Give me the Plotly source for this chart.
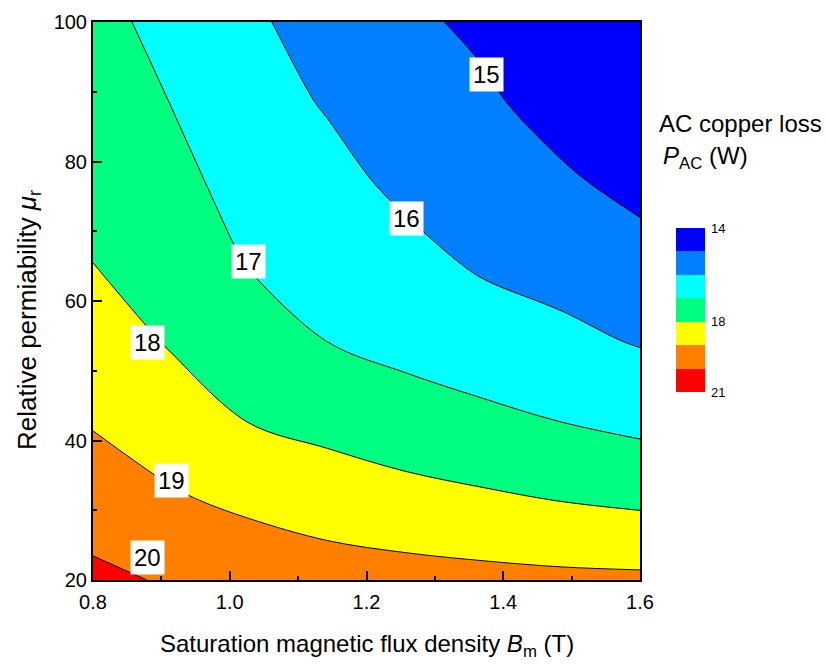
import plotly.graph_objects as go

# ---- data ----
B_m = [0.8, 0.914, 1.029, 1.143, 1.257, 1.371, 1.486, 1.6]          # Saturation flux density (T)
mu_r = [20, 31.43, 42.86, 54.29, 65.71, 77.14, 88.57, 100]           # Relative permeability
P_ac = [                                                             # AC copper loss (W), rows = mu_r
    [20.20, 19.91, 19.70, 19.45, 19.35, 19.27, 19.20, 19.17],
    [19.54, 19.12, 18.79, 18.54, 18.33, 18.15, 17.98, 17.83],
    [18.92, 18.47, 17.97, 17.71, 17.42, 17.21, 16.98, 16.75],
    [18.46, 17.92, 17.44, 16.99, 16.72, 16.45, 16.22, 15.93],
    [17.99, 17.60, 16.94, 16.63, 16.26, 15.87, 15.63, 15.28],
    [17.55, 17.28, 16.63, 16.26, 15.81, 15.49, 15.11, 14.77],
    [17.25, 16.99, 16.35, 15.93, 15.50, 15.12, 14.70, 14.38],
    [17.08, 16.92, 16.12, 15.70, 15.15, 14.85, 14.32, 14.00],
]
level_start, level_end, level_step = 14, 21, 1
band_colors = ["#0000FF", "#0080FF", "#00FFFF", "#00FF80", "#FFFF00", "#FF8000", "#FF0000"]
band_centers = [14.5, 15.5, 16.5, 17.5, 18.5, 19.5, 20.5]
cbar_ticks = [14, 18, 21]
label_text = ["15", "16", "17", "18", "19", "20"]
label_B = [1.375, 1.259, 1.028, 0.880, 0.9155, 0.880]
label_mu = [92.5, 71.9, 65.6, 54.1, 34.3, 23.2]

FONT = "Arial, Liberation Sans, sans-serif"
W, H = 826, 664
ML, MR, MT, MB = 93, 10, 22, 84
PW, PH = W - ML - MR, H - MT - MB


def px_x(p):  # pixel -> paper fraction
    return (p - ML) / PW


def px_y(p):
    return (H - MB - p) / PH


n = len(band_colors)
colorscale = []
for k, c in enumerate(band_colors):
    colorscale.append([k / n, c])
    colorscale.append([(k + 1) / n, c])

fig = go.Figure()
fig.add_trace(go.Contour(
    x=B_m, y=mu_r, z=P_ac,
    colorscale=colorscale, zmin=level_start, zmax=level_end, zauto=False,
    autocontour=False,
    contours=dict(start=level_start, end=level_end, size=level_step, coloring="fill", showlabels=False),
    line=dict(color="black", width=1),
    showscale=False, hoverinfo="skip",
))

# discrete colour key (reversed: 14 on top)
fig.add_trace(go.Heatmap(
    x=[0], y=band_centers, z=[[v] for v in band_centers],
    colorscale=colorscale, zmin=level_start, zmax=level_end,
    showscale=False, xaxis="x2", yaxis="y2", hoverinfo="skip",
))

annotations = []
for t, bx, my in zip(label_text, label_B, label_mu):
    annotations.append(dict(x=bx, y=my, xref="x", yref="y", text=t, showarrow=False,
                            bgcolor="white", borderpad=3,
                            font=dict(family=FONT, size=24, color="black")))

annotations += [
    dict(x=px_x(657), y=px_y(123), xref="paper", yref="paper", xanchor="left", yanchor="middle",
         showarrow=False, text="AC copper loss", font=dict(family=FONT, size=24, color="black")),
    dict(x=px_x(661), y=px_y(158), xref="paper", yref="paper", xanchor="left", yanchor="middle",
         showarrow=False, text="<i>P</i><sub>AC</sub> (W)", font=dict(family=FONT, size=24, color="black")),
    dict(x=px_x(367), y=px_y(645), xref="paper", yref="paper", xanchor="center", yanchor="middle",
         showarrow=False, text="Saturation magnetic flux density <i>B</i><sub>m</sub> (T)",
         font=dict(family=FONT, size=24, color="black")),
    dict(x=px_x(28), y=px_y(320), xref="paper", yref="paper", xanchor="center", yanchor="middle",
         showarrow=False, textangle=-90, text="Relative permiability <i>μ</i><sub>r</sub>",
         font=dict(family=FONT, size=26, color="black")),
]

axis_common = dict(showline=True, linecolor="black", linewidth=2, mirror=True,
                   ticks="inside", ticklen=9, tickwidth=1.5, tickcolor="black",
                   showgrid=False, zeroline=False, automargin=False,
                   tickfont=dict(family=FONT, size=20, color="black"))

fig.update_layout(
    width=W, height=H, autosize=False,
    margin=dict(l=ML, r=MR, t=MT, b=MB, autoexpand=False),
    paper_bgcolor="white", plot_bgcolor="white",
    showlegend=False,
    xaxis=dict(domain=[0, px_x(640)], range=[0.8, 1.6], dtick=0.2, tick0=0.8, tickformat=".1f",
               minor=dict(ticks="inside", ticklen=4, dtick=0.1, tickcolor="black", tickwidth=1.5),
               ticklabelstandoff=3, **axis_common),
    yaxis=dict(range=[20, 100], dtick=20, tick0=20,
               minor=dict(ticks="inside", ticklen=4, dtick=10, tickcolor="black", tickwidth=1.5),
               **axis_common),
    xaxis2=dict(domain=[px_x(676), px_x(705)], anchor="y2", range=[-0.5, 0.5],
                visible=False, fixedrange=True, automargin=False),
    yaxis2=dict(domain=[px_y(392), px_y(228)], anchor="x2", range=[21, 14],
                side="right", tickvals=cbar_ticks, ticks="", showgrid=False, zeroline=False,
                showline=False, ticklabelstandoff=5, automargin=False,
                tickfont=dict(family=FONT, size=13, color="black")),
    annotations=annotations,
)

fig.write_html(
    "out.html",
    config={"displayModeBar": False},
    post_script="document.body.style.margin='0px';document.body.style.overflow='hidden';",
)
